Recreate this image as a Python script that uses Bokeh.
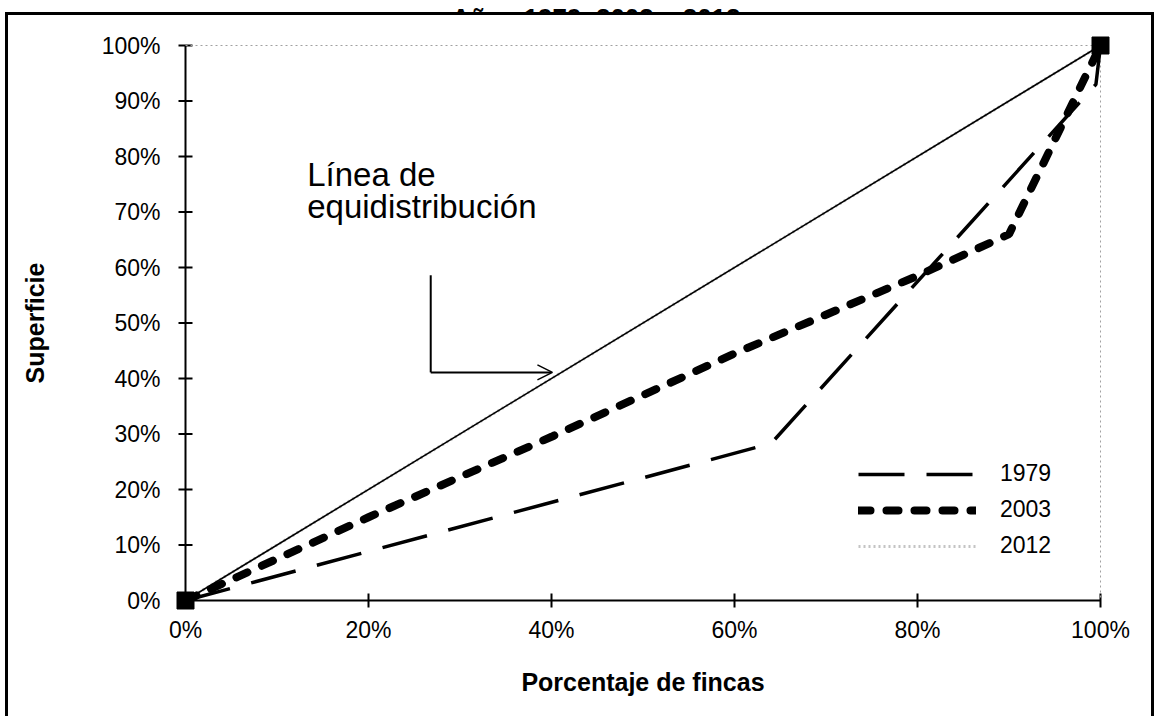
from bokeh.plotting import figure
from bokeh.layouts import column
from bokeh.models import (Label, Legend, LegendItem, Arrow, OpenHead, FixedTicker, Range1d, Div)
from bokeh.embed import file_html
from bokeh.resources import INLINE

# ---- data (percent) ----
x_1979 = [0, 64, 99.5, 100]
y_1979 = [0, 28.3, 93, 100]
x_2003 = [0, 20, 40, 60, 80, 90, 100]
y_2003 = [0, 15, 29.5, 44.5, 58.5, 66, 100]
x_2012 = [0, 100]
y_2012 = [0, 100]
x_equi = [0, 100]
y_equi = [0, 100]
x_ticks = [0, 20, 40, 60, 80, 100]
y_ticks = [0, 10, 20, 30, 40, 50, 60, 70, 80, 90, 100]
series_names = ["1979", "2003", "2012"]
title_text = "Años 1979, 2003 y 2012"
x_title = "Porcentaje de fincas"
y_title = "Superficie"
note_lines = ["Línea de", "equidistribución"]

FONT = "Liberation Sans"

# layout (pixels)
PX_X = 915.0      # pixels for 0..100 % on x
PX_Y = 555.0      # pixels for 0..100 % on y
PAD_X = 11.0
PAD_Y = 10.0
W, H = 1149, 704
FRAME_L, FRAME_T = 166, 20
FRAME_W = int(PX_X + 2 * PAD_X)
FRAME_H = int(PX_Y + 2 * PAD_Y)
TICK = 7.0

px = PAD_X * 100 / PX_X
py = PAD_Y * 100 / PX_Y
tx = TICK * 100 / PX_X
ty = TICK * 100 / PX_Y

p = figure(width=W, height=H, output_backend="svg", toolbar_location=None,
           x_range=Range1d(-px, 100 + px), y_range=Range1d(-py, 100 + py),
           min_border_left=FRAME_L, min_border_right=W - FRAME_L - FRAME_W,
           min_border_top=FRAME_T, min_border_bottom=H - FRAME_T - FRAME_H,
           margin=(0, 0, 0, 5),
           styles={"border-left": "3px solid black", "border-top": "3px solid black",
                   "border-right": "3px solid black"})

p.grid.visible = False
p.outline_line_color = None
p.background_fill_color = "white"
p.border_fill_color = "white"

p.xaxis.ticker = FixedTicker(ticks=x_ticks)
p.yaxis.ticker = FixedTicker(ticks=y_ticks)
p.xaxis.major_label_overrides = {t: f"{t}%" for t in x_ticks}
p.yaxis.major_label_overrides = {t: f"{t}%" for t in y_ticks}
p.xaxis.axis_label = x_title
p.yaxis.axis_label = y_title

for ax in (p.xaxis[0], p.yaxis[0]):
    ax.axis_line_color = None
    ax.major_tick_line_color = None
    ax.major_tick_in = 0
    ax.major_tick_out = 0
    ax.minor_tick_line_color = None
    ax.major_label_text_font = FONT
    ax.major_label_text_font_size = "23px"
    ax.major_label_text_color = "black"
    ax.axis_label_text_font = FONT
    ax.axis_label_text_font_style = "bold"
    ax.axis_label_text_font_size = "25px"
    ax.axis_label_text_color = "black"

p.yaxis.major_label_standoff = 14
p.yaxis.axis_label_standoff = 50
p.xaxis.major_label_standoff = 6
p.xaxis.axis_label_standoff = 22

# axis lines and crossing ticks at the 0 % positions
p.line([x_ticks[0], x_ticks[0]], [y_ticks[0], y_ticks[-1]], line_color="black", line_width=2)
p.line([x_ticks[0], x_ticks[-1]], [y_ticks[0], y_ticks[0]], line_color="black", line_width=2)
p.segment(x0=[-tx] * len(y_ticks), y0=y_ticks, x1=[tx] * len(y_ticks), y1=y_ticks,
          line_color="black", line_width=2)
p.segment(x0=x_ticks, y0=[-ty] * len(x_ticks), x1=x_ticks, y1=[ty] * len(x_ticks),
          line_color="black", line_width=2)

# plot-area border (top / right), dotted grey
p.line([x_ticks[0], x_ticks[-1], x_ticks[-1]], [y_ticks[-1], y_ticks[-1], y_ticks[0]],
       line_color="#a0a0a0", line_width=1, line_dash="2 3")

# ---- series ----
r2012 = p.line(x_2012, y_2012, line_color="#c4c4c4", line_width=3, line_dash="2 3")
p.line(x_equi, y_equi, line_color="black", line_width=1.6)
r1979 = p.line(x_1979, y_1979, line_color="black", line_width=3.5, line_dash="46 22")
r2003 = p.line(x_2003, y_2003, line_color="black", line_width=8, line_dash="12 16",
               line_cap="round")
p.scatter([x_2003[0], x_2003[-1]], [y_2003[0], y_2003[-1]], marker="square", size=17,
          color="black")

legend = Legend(items=[LegendItem(label=series_names[0], renderers=[r1979]),
                       LegendItem(label=series_names[1], renderers=[r2003]),
                       LegendItem(label=series_names[2], renderers=[r2012])],
                location=(684, 51), glyph_width=118, glyph_height=24, spacing=9,
                label_standoff=24, padding=0, margin=0,
                border_line_color=None, background_fill_alpha=0,
                label_text_font=FONT, label_text_font_size="23px",
                label_text_color="black")
p.add_layout(legend, "center")

# ---- annotation ----
p.add_layout(Label(x=13.3, y=80.1, text=note_lines[0], text_font=FONT,
                   text_font_size="33px", text_baseline="top", text_color="black"))
p.add_layout(Label(x=13.3, y=74.4, text=note_lines[1], text_font=FONT,
                   text_font_size="33px", text_baseline="top", text_color="black"))
p.add_layout(Arrow(x_start=26.8, y_start=58.6, x_end=26.8, y_end=41.1, end=None,
                   line_color="black", line_width=2))
p.add_layout(Arrow(x_start=26.8, y_start=41.1, x_end=40.1, y_end=41.1,
                   end=OpenHead(size=15, line_width=1.5, line_color="black"),
                   line_color="black", line_width=2))

# ---- title, cut at the top of the page as in the source ----
title = Div(text=f'<div style="position:relative; left:16px; margin-top:-17px; '
                 f'text-align:center; width:1160px; line-height:29px;">{title_text}</div>',
            width=W + 11, height=12, margin=0,
            styles={"overflow": "hidden", "font-family": FONT, "font-size": "26px",
                    "font-weight": "bold", "color": "black"})

layout = column(title, p, spacing=0, margin=0)
open("out.html", "w").write(file_html(layout, INLINE))
